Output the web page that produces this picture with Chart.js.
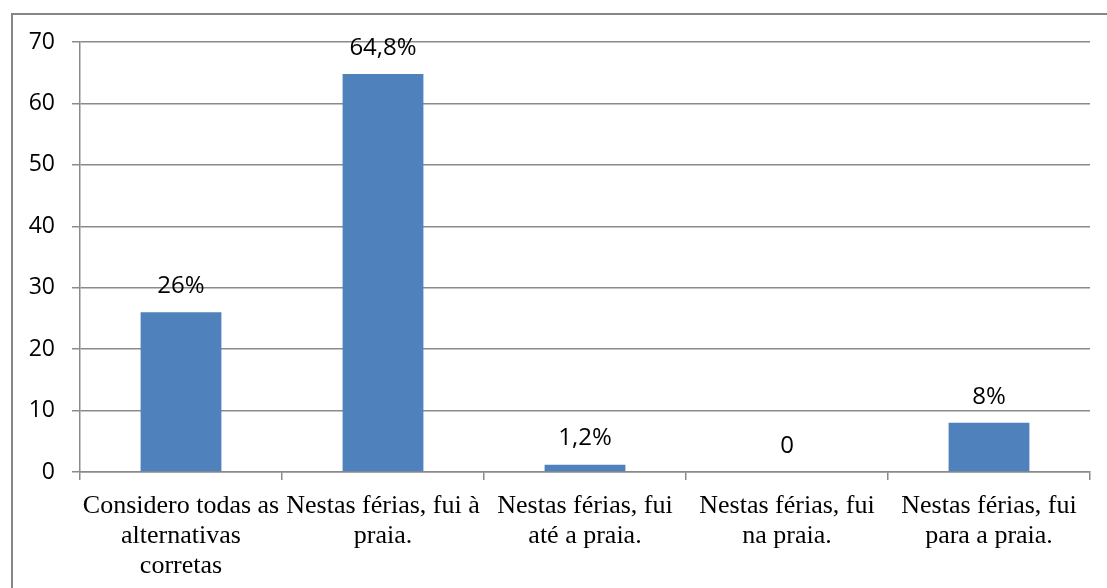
<!DOCTYPE html>
<html>
<head>
<meta charset="utf-8">
<script src="https://cdn.jsdelivr.net/npm/chart.js@4/dist/chart.umd.min.js"></script>
<style>
  body { margin: 0; background: #fff; }
  #frame { position: absolute; left: 11px; top: 13px; width: 1200px; height: 700px;
           border-left: 2px solid #868686; border-top: 2px solid #868686; }
  #myChart { position: absolute; left: 0; top: 0; }
</style>
</head>
<body>
<div id="frame"></div>
<canvas id="myChart" width="1107" height="588"></canvas>
<script>
const categories = [
    ["Considero todas as", "alternativas", "corretas"],
    ["Nestas férias, fui à", "praia."],
    ["Nestas férias, fui", "até a praia."],
    ["Nestas férias, fui", "na praia."],
    ["Nestas férias, fui", "para a praia."]
];
const values = [26, 64.8, 1.2, 0, 8];
const valueLabels = ["26%", "64,8%", "1,2%", "0", "8%"];
const yMax = 70;
const yStep = 10;

const gridGray = '#8a8a8a';

// draws the text above each bar
const barLabels = {
    id: 'barLabels',
    afterDatasetsDraw(chart) {
        let ctx = chart.ctx;
        let meta = chart.getDatasetMeta(0);
        ctx.save();
        ctx.font = '24px "Open Sans"';
        ctx.fillStyle = '#000';
        ctx.textAlign = 'center';
        ctx.textBaseline = 'middle';
        meta.data.forEach(function (bar, i) {
            ctx.fillText(valueLabels[i], bar.x, bar.y - 26);
        });
        ctx.restore();
    }
};

function drawChart() {
    var ctx = document.getElementById("myChart").getContext('2d');
    var myChart = new Chart(ctx, {
        type: 'bar',
        data: {
            labels: categories,
            datasets: [{
                data: values,
                backgroundColor: '#4F81BD',
                borderWidth: 0,
                categoryPercentage: 1,
                barPercentage: 0.4
            }]
        },
        options: {
            responsive: false,
            animation: false,
            layout: { padding: { top: 42, right: 17, left: 0, bottom: 0 } },
            plugins: {
                legend: { display: false },
                tooltip: { enabled: false }
            },
            scales: {
                x: {
                    grid: { display: true, drawOnChartArea: false, tickLength: 8, color: gridGray, lineWidth: 1.5, offset: true },
                    border: { color: gridGray, width: 1.5 },
                    ticks: {
                        color: '#000',
                        font: { family: '"Liberation Serif"', size: 26, lineHeight: 1.15 },
                        padding: 11,
                        maxRotation: 0,
                        autoSkip: false
                    },
                    afterFit(scale) { scale.height = 116; }
                },
                y: {
                    min: 0,
                    max: yMax,
                    grid: { color: gridGray, lineWidth: 1.5, tickLength: 8 },
                    border: { color: gridGray, width: 1.5 },
                    ticks: {
                        stepSize: yStep,
                        color: '#000',
                        font: { family: '"Open Sans"', size: 23 },
                        padding: 17
                    },
                    afterFit(scale) { scale.width = 80; }
                }
            }
        },
        plugins: [barLabels]
    });
}

drawChart();
</script>
</body>
</html>
